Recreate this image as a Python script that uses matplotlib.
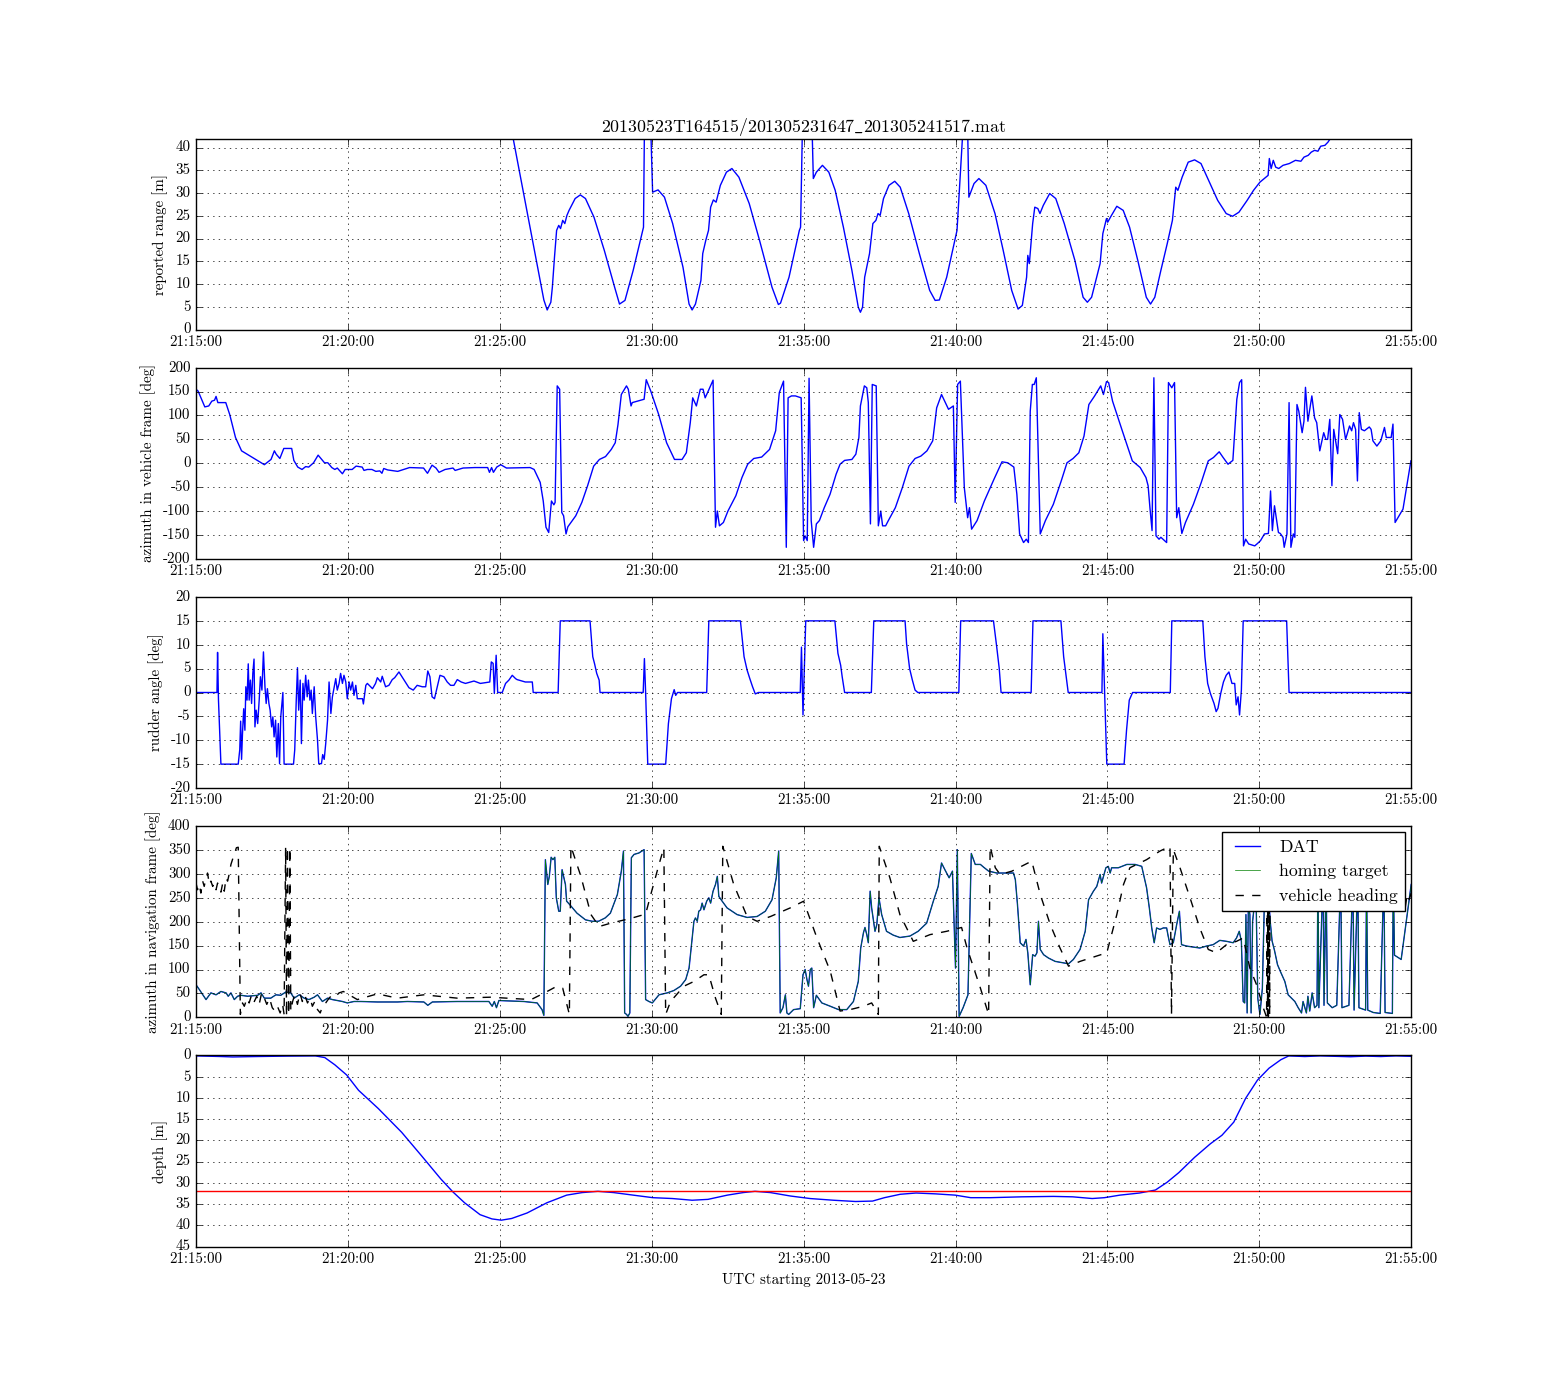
import datetime as dt

import matplotlib
matplotlib.use('Agg')
import matplotlib.dates as mdates
from matplotlib import pyplot as plt

plt.style.use('classic')
plt.rcParams['font.family'] = ['cmr10', 'DejaVu Serif']
plt.rcParams['axes.unicode_minus'] = False
plt.rcParams['mathtext.fontset'] = 'cm'

T0 = dt.datetime(2013, 5, 23, 21, 15)
TITLE = r'20130523T164515/201305231647$\_$201305241517.mat'

# ---- data, time in minutes after 21:15:00 ----
range_t = [10.2, 10.44, 11.45, 11.56, 11.68, 11.73, 11.8, 11.87, 11.94, 12.0, 12.07, 12.14, 12.21,
           12.28, 12.48, 12.65, 12.82, 13.1, 13.44, 13.78, 13.94, 14.12, 14.39, 14.73, 14.76,
           14.97, 15.03, 15.21, 15.42, 15.69, 16.03, 16.23, 16.33, 16.44, 16.62, 16.68, 16.78,
           16.87, 16.94, 17.03, 17.12, 17.26, 17.46, 17.64, 17.87, 18.21, 18.55, 18.96, 19.17,
           19.24, 19.52, 19.86, 19.9, 19.96, 20.28, 20.32, 20.42, 20.62, 20.83, 21.04, 21.31,
           21.59, 21.8, 21.87, 21.94, 22.01, 22.17, 22.28, 22.38, 22.45, 22.52, 22.63, 22.81,
           23.0, 23.18, 23.46, 23.81, 24.15, 24.33, 24.47, 24.71, 24.98, 25.05, 25.23, 25.26,
           25.4, 25.44, 25.61, 25.77, 26.0, 26.3, 26.57, 26.85, 27.06, 27.2, 27.34, 27.38,
           27.43, 27.54, 27.61, 27.71, 27.78, 27.89, 28.1, 28.3, 28.58, 28.93, 29.2, 29.34,
           29.48, 29.76, 29.85, 29.97, 30.01, 30.1, 30.31, 30.52, 30.73, 31.0, 31.28, 31.42,
           31.56, 31.76, 31.97, 32.14, 32.25, 32.32, 32.46, 32.66, 32.87, 33.08, 33.36, 33.63,
           33.91, 34.12, 34.33, 34.6, 34.81, 35.02, 35.22, 35.29, 35.33, 35.39, 35.46, 35.54,
           35.64, 35.78, 35.99, 36.19, 36.37, 36.47, 36.61, 36.71, 36.82, 36.93, 37.02, 37.16,
           37.26, 37.37, 37.5]
range_m = [48, 42, 6.5, 4.3, 6, 9.3, 15.9, 21.8, 22.9, 22.2, 24, 23.3, 25.1,
           26.2, 28.8, 29.6, 28.8, 24.7, 17.4, 9.3, 5.6, 6.4, 13, 22.5, 44,
           44, 30.2, 30.7, 29.1, 23.3, 13.7, 5.6, 4.3, 5.6, 10.8, 16.7, 19.6,
           21.8, 26.9, 28.5, 28, 31.7, 34.6, 35.4, 33.5, 27.7, 19.6, 9.3, 5.5,
           5.8, 11.5, 21.8, 22.5, 44, 44, 33.2, 34.6, 36.1, 34.6, 30.6, 22.5,
           13, 4.9, 3.8, 4.9, 11.5, 16.7, 23.3, 24, 25.5, 25.1, 28.8, 31.7,
           32.6, 31.3, 25.5, 16.7, 8.6, 6.4, 6.5, 11.5, 19.6, 21.8, 42.3, 44,
           44, 29.1, 32.1, 33.2, 31.7, 25.5, 17.4, 8.6, 4.5, 5.3, 11.5, 16.3,
           14.5, 23.3, 26.9, 26.6, 25.5, 27.3, 29.9, 28.8, 23.3, 15.2, 7.1, 6,
           7.1, 14.5, 21.1, 24.4, 23.6, 24.7, 27.1, 26.2, 22.5, 15.2, 7.1, 5.6,
           7.1, 13, 18.9, 24, 31.3, 30.6, 33.5, 36.8, 37.3, 36.5, 32.4, 28.4,
           25.5, 24.9, 25.8, 28.4, 30.6, 32.4, 33.5, 33.9, 37.6, 35.4, 37.2, 35.7,
           35.4, 36.1, 36.5, 37.2, 37, 37.9, 38.3, 39, 39.4, 39.2, 40.3, 40.5,
           41.2, 42.3, 43.5]

azv_t = [0, 0.07, 0.29, 0.42, 0.52, 0.61, 0.66, 0.72, 0.98, 1.11, 1.3, 1.5, 2.25, 2.47, 2.58,
         2.64, 2.76, 2.89, 3.15, 3.22, 3.35, 3.49, 3.61, 3.71, 3.87, 4.02, 4.23, 4.34, 4.47,
         4.57, 4.65, 4.82, 4.91, 5.01, 5.14, 5.27, 5.47, 5.53, 5.64, 5.79, 5.92, 6.05, 6.12,
         6.18, 6.31, 6.64, 7.03, 7.49, 7.62, 7.77, 7.9, 8.0, 8.2, 8.46, 8.53, 8.79, 9.18, 9.6,
         9.66, 9.73, 9.79, 9.9, 10.03, 10.22, 11.0, 11.13, 11.33, 11.43, 11.52, 11.61, 11.7,
         11.78, 11.82, 11.89, 11.97, 12.04, 12.1, 12.18, 12.24, 12.5, 12.7, 12.89, 13.09,
         13.28, 13.48, 13.67, 13.8, 13.89, 14.0, 14.17, 14.23, 14.32, 14.36, 14.75, 14.82,
         14.97, 15.23, 15.49, 15.75, 16.0, 16.14, 16.27, 16.35, 16.47, 16.6, 16.69, 16.76,
         16.86, 17.02, 17.1, 17.16, 17.23, 17.36, 17.51, 17.77, 17.97, 18.16, 18.36, 18.62,
         18.88, 19.08, 19.2, 19.34, 19.43, 19.49, 19.6, 19.73, 19.92, 20.0, 20.05, 20.12,
         20.18, 20.25, 20.33, 20.42, 20.52, 20.68, 20.87, 21.07, 21.2, 21.35, 21.59, 21.72,
         21.82, 21.87, 22.0, 22.08, 22.13, 22.2, 22.26, 22.39, 22.46, 22.54, 22.6, 22.7,
         22.79, 23.02, 23.25, 23.47, 23.67, 23.86, 24.06, 24.25, 24.38, 24.54, 24.77, 24.93,
         24.99, 25.07, 25.16, 25.29, 25.4, 25.46, 25.53, 25.71, 25.95, 26.27, 26.53, 26.72,
         26.92, 27.02, 27.11, 27.24, 27.33, 27.4, 27.46, 27.53, 27.59, 27.66, 27.79, 27.96,
         28.22, 28.48, 28.67, 28.87, 29.06, 29.23, 29.39, 29.58, 29.78, 29.87, 29.97, 30.04,
         30.17, 30.49, 30.82, 31.08, 31.27, 31.34, 31.4, 31.47, 31.53, 31.6, 31.7, 31.76,
         31.95, 32.01, 32.12, 32.21, 32.28, 32.35, 32.45, 32.57, 32.83, 33.09, 33.32, 33.49,
         33.68, 33.81, 33.97, 34.13, 34.26, 34.35, 34.42, 34.48, 34.55, 34.65, 34.85, 34.94,
         35.04, 35.17, 35.3, 35.37, 35.43, 35.5, 35.63, 35.69, 35.78, 35.82, 35.91, 35.98,
         36.04, 36.12, 36.17, 36.24, 36.3, 36.41, 36.47, 36.52, 36.6, 36.73, 36.82, 36.89,
         36.99, 37.12, 37.19, 37.25, 37.32, 37.39, 37.45, 37.58, 37.65, 37.74, 37.84, 37.97,
         38.04, 38.1, 38.17, 38.23, 38.29, 38.36, 38.46, 38.52, 38.62, 38.68, 38.74, 38.87,
         39.0, 39.12, 39.18, 39.34, 39.4, 39.47, 39.6, 39.73, 39.99]
azv_deg = [155, 151, 118, 120, 130, 132, 140, 127, 127, 102, 54, 26, -3, 8, 26,
           19, 10, 31, 31, 6, -8, -13, -7, -8, 1, 17, 1, 1, -9,
           -13, -10, -22, -13, -13, -13, -6, -8, -15, -13, -13, -17, -16, -21,
           -11, -14, -17, -9, -10, -21, -4, -10, -19, -13, -10, -15, -10, -9, -9,
           -19, -9, -19, -8, -3, -10, -9, -13, -40, -79, -134, -145, -79,
           -87, -82, 162, 155, -103, -110, -148, -133, -110, -82, -47, -6,
           8, 14, 29, 43, 81, 144, 162, 155, 120, 127, 134, 175,
           151, 102, 43, 8, 8, 22, 85, 137, 120, 155, 155, 137,
           151, 174, -134, -100, -131, -124, -100, -68, -30, -2, 10, 13,
           29, 68, 148, 172, -176, 137, 141, 141, 137, -162, -152, -162,
           178, -120, -176, -127, -120, -93, -65, -23, -2, 6, 8, 19,
           54, 120, 162, 158, 127, -127, 165, 162, -131, -100, -131, -131,
           -120, -93, -51, -6, 10, 15, 26, 47, 116, 144, 113, 120,
           -82, 165, 172, -51, -114, -93, -138, -120, -79, -33, 3, 1,
           -8, -65, -148, -166, -159, -166, 109, 165, 165, 179, -148, -120,
           -86, -37, 1, 10, 22, 57, 123, 141, 162, 144, 171, 169,
           130, 68, 5, -9, -30, -47, -93, -141, 179, -152, -159, -155,
           -166, 169, 158, 169, -114, -93, -147, -124, -86, -40, 5, 12,
           24, 12, -2, 6, 134, 169, 175, -173, -159, -169, -173, -168,
           -162, -148, -147, -58, -141, -89, -145, -147, -155, -176, -148, 127,
           -176, -148, -155, 123, 109, 64, 88, 159, 88, 141, 95, 85,
           26, 64, 50, 50, 92, -47, 71, 20, 102, 92, 50, 78,
           68, 85, 71, -37, 106, 71, 68, 71, 76, 71, 47, 36,
           47, 75, 54, 54, 82, -124, -110, -96, 5]

rud_t = [0, 0.69, 0.71, 0.74, 0.82, 1.39, 1.44, 1.47, 1.5, 1.53, 1.57, 1.61, 1.64, 1.68, 1.72,
         1.75, 1.79, 1.83, 1.87, 1.91, 1.94, 1.98, 2.03, 2.08, 2.12, 2.17, 2.22, 2.27, 2.31,
         2.35, 2.4, 2.44, 2.49, 2.53, 2.57, 2.62, 2.66, 2.71, 2.75, 2.79, 2.86, 2.9, 3.21,
         3.25, 3.3, 3.34, 3.38, 3.43, 3.47, 3.52, 3.56, 3.61, 3.66, 3.7, 3.75, 3.79, 3.83,
         3.89, 3.94, 4.0, 4.04, 4.13, 4.17, 4.22, 4.27, 4.33, 4.38, 4.44, 4.49, 4.55, 4.6,
         4.65, 4.71, 4.76, 4.82, 4.87, 4.93, 4.98, 5.04, 5.09, 5.15, 5.2, 5.26, 5.31, 5.48,
         5.51, 5.59, 5.64, 5.81, 5.91, 5.97, 6.08, 6.13, 6.19, 6.24, 6.35, 6.46, 6.54, 6.68,
         6.84, 7.01, 7.15, 7.28, 7.45, 7.56, 7.63, 7.7, 7.77, 7.85, 7.94, 8.03, 8.16, 8.27,
         8.38, 8.49, 8.6, 8.73, 8.87, 9.15, 9.36, 9.67, 9.72, 9.78, 9.82, 9.88, 9.93, 10.08,
         10.19, 10.3, 10.41, 10.52, 10.57, 10.84, 11.07, 11.1, 11.92, 11.99, 12.97, 13.06,
         13.12, 13.19, 13.27, 13.3, 14.72, 14.76, 14.8, 14.87, 15.46, 15.55, 15.65, 15.74,
         15.79, 15.85, 16.81, 16.88, 17.92, 18.04, 18.14, 18.23, 18.32, 18.41, 18.51, 19.89,
         19.93, 19.98, 20.07, 21.03, 21.13, 21.22, 21.27, 21.35, 22.23, 22.31, 23.34, 23.39,
         23.49, 23.58, 23.67, 23.76, 25.11, 25.17, 26.25, 26.35, 26.44, 26.5, 27.49, 27.55,
         28.47, 28.56, 28.65, 28.71, 29.82, 29.85, 29.91, 29.98, 30.55, 30.63, 30.72, 30.79,
         30.83, 32.07, 32.12, 33.14, 33.21, 33.3, 33.39, 33.51, 33.58, 33.64, 33.73, 33.82,
         33.91, 34.0, 34.1, 34.19, 34.24, 34.3, 34.35, 34.41, 34.47, 35.9, 35.98, 40.0]
rud_deg = [0, 0, 8.4, -1.6, -15, -15, -12, -6, -14, -8.6, -3.4, -7.9, 1.2, -1.6, 6,
           -1.6, 2.6, -2.3, 4, 7, -7.2, -3.7, -6.5, -1.6, 3.3, 0.5, 8.5, 1.2, -2.3,
           0.8, -2.3, -3.7, -7.2, -5.1, -9.3, -5.8, -13.5, -6.5, -14.9, -5.1, 0, -15, -15,
           -12, -1.6, 5.2, -3.7, 2.6, -10.7, 1.9, -1.6, 3.6, -0.9, 2.6, -1.6, 0.5, -4.4,
           1.2, -5.1, -10, -14.9, -14.9, -13, -14, -10.7, -5.8, 2.2, -4.4, -0.9, 1.2, 2.9,
           0.5, 1.9, 4, 1.9, 3.6, 2.2, -1.3, 2.2, 0.5, 2.2, -0.6, 1.5, -1.3, -1.3,
           -2.4, 1.5, 1.9, 0.8, 1.9, 3.1, 2.2, 3.4, 2.2, 1.2, 1.5, 2.7, 3.1, 4.3,
           2.7, 1, 0.5, 1.5, 1.2, 1.2, 4.5, 3.3, -0.9, -1.3, 1.2, 3.6, 3.3, 2.2,
           1.5, 1.5, 2.7, 2.2, 1.9, 2.4, 1.9, 2.2, 6.4, 6.1, -0.2, 7.8, 0, 0,
           1.9, 2.6, 3.6, 2.9, 2.7, 2.2, 2.2, 0, 0, 15, 15, 7.5,
           6, 4, 2.6, 0, 0, 7.1, 0, -15, -15, -6.5, -1.3, 0.6,
           -0.6, 0, 0, 15, 15, 7.5, 4.7, 2.9, 1.2, -0.3, 0, 0,
           9.5, -4.7, 15, 15, 8.2, 5.7, 3.3, 0, 0, 15, 15, 10.2,
           5, 2.6, 0.5, 0, 0, 15, 15, 9.9, 5, 0, 0, 15,
           15, 7.5, 2.9, 0, 0, 12.3, 0, -15, -15, -7.9, -1.6, -0.6,
           0, 0, 15, 15, 7.5, 1.9, -0.2, -2.3, -4, -3.3, -0.2, 2.2,
           3.6, 4.3, 1.9, 1.9, -2.6, -0.9, -4.7, 0.5, 15, 15, 0, 0]

dat_t = [0, 0.11, 0.33, 0.49, 0.66, 0.82, 0.99, 1.06, 1.15, 1.26, 1.37, 1.48, 1.7, 2.03, 2.14,
         2.25, 2.46, 2.63, 2.79, 2.96, 3.12, 3.23, 3.4, 3.56, 3.72, 3.89, 4.0, 4.16, 4.33,
         4.49, 4.65, 4.82, 4.98, 5.2, 5.42, 5.97, 6.63, 6.96, 7.5, 7.63, 7.78, 8.6, 9.15,
         9.64, 9.75, 9.82, 9.89, 9.97, 10.79, 11.23, 11.39, 11.45, 11.5, 11.58, 11.63, 11.69,
         11.75, 11.81, 11.86, 11.94, 11.99, 12.05, 12.16, 12.2, 12.3, 12.54, 12.82, 13.04,
         13.25, 13.47, 13.64, 13.87, 14.0, 14.07, 14.11, 14.17, 14.22, 14.28, 14.33, 14.42,
         14.58, 14.75, 14.8, 14.91, 15.02, 15.24, 15.51, 15.73, 15.95, 16.12, 16.23, 16.31,
         16.39, 16.44, 16.5, 16.55, 16.61, 16.66, 16.72, 16.81, 16.88, 16.94, 17.02, 17.1,
         17.16, 17.21, 17.32, 17.48, 17.81, 18.14, 18.47, 18.74, 18.96, 19.1, 19.18, 19.23,
         19.32, 19.4, 19.45, 19.51, 19.67, 19.89, 19.98, 20.05, 20.11, 20.16, 20.22, 20.27,
         20.33, 20.42, 20.6, 20.88, 21.15, 21.42, 21.64, 21.8, 21.88, 21.97, 22.02, 22.08,
         22.13, 22.19, 22.24, 22.35, 22.41, 22.48, 22.57, 22.73, 22.95, 23.17, 23.5, 23.77,
         24.05, 24.27, 24.43, 24.54, 24.65, 24.79, 24.9, 24.95, 25.0, 25.06, 25.12, 25.25,
         25.41, 25.52, 25.65, 25.82, 25.93, 26.09, 26.36, 26.69, 26.91, 26.97, 27.04, 27.13,
         27.24, 27.32, 27.38, 27.46, 27.54, 27.62, 27.68, 27.73, 27.79, 27.9, 28.06, 28.28,
         28.55, 28.72, 28.88, 29.1, 29.27, 29.38, 29.54, 29.65, 29.76, 29.81, 29.87, 29.95,
         30.03, 30.09, 30.14, 30.36, 30.64, 30.91, 31.13, 31.29, 31.38, 31.46, 31.54, 31.62,
         31.73, 31.84, 31.95, 32.0, 32.06, 32.17, 32.28, 32.37, 32.44, 32.61, 32.83, 33.04,
         33.26, 33.48, 33.7, 33.92, 34.14, 34.25, 34.34, 34.41, 34.47, 34.52, 34.56, 34.6,
         34.64, 34.69, 34.73, 34.78, 34.82, 34.88, 34.95, 35.02, 35.1, 35.17, 35.22, 35.3,
         35.36, 35.42, 35.5, 35.6, 35.7, 35.84, 35.95, 36.06, 36.17, 36.28, 36.39, 36.44,
         36.55, 36.6, 36.66, 36.74, 36.82, 36.9, 36.93, 36.96, 37.1, 37.13, 37.2, 37.24,
         37.4, 37.55, 37.68, 37.72, 37.95, 38.08, 38.12, 38.24, 38.28, 38.5, 38.53, 38.57,
         38.75, 38.98, 39.1, 39.14, 39.38, 39.41, 39.45, 39.67, 39.84, 40.0]
dat_deg = [68, 58, 37, 51, 47, 54, 51, 44, 51, 37, 44, 46, 44, 46, 51,
           40, 40, 47, 46, 53, 51, 40, 47, 40, 37, 42, 47, 33, 40,
           37, 35, 33, 30, 33, 33, 32, 32, 33, 32, 25, 32, 33, 33,
           33, 23, 33, 20, 35, 33, 30, 16, 4, 330, 278, 295, 335,
           330, 335, 250, 222, 222, 309, 278, 243, 236, 218, 204, 201,
           201, 208, 218, 257, 306, 348, 9, 6, 2, 9, 334, 341,
           344, 351, 37, 33, 30, 47, 51, 56, 65, 79, 103, 152,
           201, 208, 201, 222, 225, 239, 225, 243, 250, 239, 264, 278,
           295, 253, 243, 229, 215, 209, 211, 222, 246, 292, 348, 9,
           20, 47, 9, 6, 16, 18, 89, 100, 79, 65, 100, 103,
           20, 46, 30, 23, 16, 16, 33, 75, 145, 177, 188, 173,
           156, 264, 229, 180, 194, 250, 215, 180, 172, 167, 170, 180,
           197, 243, 274, 323, 309, 292, 306, 208, 103, 351, 2, 20,
           47, 343, 320, 320, 314, 306, 302, 302, 302, 288, 236, 156,
           149, 163, 135, 68, 131, 128, 135, 201, 142, 131, 124, 117,
           114, 112, 121, 142, 180, 246, 264, 274, 299, 281, 295, 313,
           316, 302, 313, 313, 320, 320, 316, 271, 229, 187, 156, 187,
           184, 187, 187, 170, 152, 156, 194, 222, 152, 149, 147, 145,
           149, 152, 161, 159, 156, 166, 180, 159, 33, 30, 215, 9,
           236, 215, 9, 201, 225, 300, 40, 6, 60, 250, 300, 260,
           200, 160, 140, 110, 95, 75, 47, 40, 33, 20, 9, 33,
           9, 44, 13, 51, 20, 25, 300, 20, 300, 25, 300, 30,
           20, 25, 300, 20, 25, 300, 15, 300, 20, 15, 300, 15,
           10, 8, 300, 10, 8, 300, 130, 121, 201, 278]
homing_deg = dat_deg

head_t = [0, 0.05, 0.11, 0.16, 0.22, 0.27, 0.33, 0.38, 0.44, 0.49, 0.55, 0.6, 0.66, 0.71, 0.77,
          0.82, 0.88, 0.93, 0.99, 1.04, 1.1, 1.15, 1.2, 1.26, 1.33, 1.39, 1.46, 1.53, 1.59,
          1.68, 1.75, 1.83, 1.92, 2.0, 2.08, 2.16, 2.25, 2.33, 2.42, 2.51, 2.6, 2.68, 2.77,
          2.85, 2.9, 2.95, 2.98, 3.01, 3.05, 3.09, 3.12, 3.18, 3.25, 3.34, 3.42, 3.5, 3.58,
          3.67, 3.76, 3.83, 3.91, 4.0, 4.09, 4.16, 4.27, 4.38, 4.49, 4.6, 4.71, 4.85, 5.31,
          5.97, 6.63, 7.5, 8.6, 9.69, 11.03, 11.47, 11.85, 12.07, 12.29, 12.34, 12.67, 13.0,
          13.27, 13.65, 14.31, 14.8, 14.97, 15.24, 15.4, 15.46, 15.62, 16.06, 16.39, 16.72,
          16.88, 17.1, 17.29, 17.34, 17.7, 18.14, 18.47, 18.91, 19.56, 20.0, 20.44, 20.88,
          21.2, 21.53, 21.97, 22.24, 22.46, 22.49, 22.84, 23.17, 23.61, 24.16, 24.71, 25.2,
          25.38, 25.6, 25.82, 26.09, 26.14, 26.31, 26.47, 26.86, 27.51, 27.79, 28.12, 28.44,
          28.72, 29.1, 29.98, 30.31, 30.53, 30.74, 31.29, 31.73, 32.06, 32.11, 32.17, 32.39,
          32.72, 33.04, 33.32, 33.59, 33.92, 34.25, 34.47, 34.69, 34.91, 35.13, 35.24, 35.26,
          35.27, 35.29, 35.3, 35.32, 35.34, 35.36, 35.5, 36.5, 37.5, 38.5, 39.3, 39.5, 39.55,
          39.6, 39.65, 39.7, 39.75, 39.8, 39.85, 39.9, 40.0]
head_deg = [281, 267, 278, 260, 285, 274, 292, 302, 278, 285, 274, 281, 267, 281, 274,
            262, 281, 264, 292, 285, 302, 320, 330, 341, 355, 356, 6, 30, 23,
            40, 30, 47, 33, 44, 27, 51, 40, 27, 40, 20, 13, 23, 9,
            27, 6, 355, 2, 356, 6, 355, 13, 33, 47, 27, 51, 33, 47,
            30, 40, 23, 33, 16, 9, 23, 30, 40, 47, 44, 51, 54, 37,
            49, 40, 47, 40, 42, 37, 51, 64, 61, 6, 358, 295, 215,
            190, 197, 207, 216, 257, 320, 355, 6, 33, 65, 75, 89,
            89, 40, 6, 358, 278, 211, 201, 211, 229, 243, 166, 96,
            13, 16, 23, 30, 6, 358, 292, 215, 159, 173, 180, 188,
            145, 103, 61, 6, 358, 313, 299, 306, 327, 257, 194, 145,
            107, 117, 135, 215, 278, 313, 330, 348, 358, 6, 351, 313,
            250, 187, 142, 135, 152, 159, 166, 103, 68, 20, 0, 359,
            3, 358, 2, 355, 5, 350, 330, 310, 300, 290, 280, 240, 255,
            230, 250, 225, 245, 228, 250, 240, 260]

depth_t = [0, 0.83, 1.21, 2.0, 3.0, 3.93, 4.24, 4.57, 4.96, 5.35, 6.0, 6.77, 7.42, 8.06, 8.45,
           8.84, 9.35, 9.74, 10.05, 10.39, 10.9, 11.55, 12.2, 12.71, 13.23, 13.75, 14.39,
           15.04, 15.68, 16.33, 16.85, 17.49, 18.01, 18.4, 18.91, 19.56, 20.21, 20.98, 21.71,
           22.27, 22.66, 23.18, 23.7, 24.34, 24.99, 25.5, 26.15, 27.18, 28.22, 28.86, 29.5,
           29.9, 30.41, 31.06, 31.58, 31.96, 32.35, 32.87, 33.39, 33.77, 34.16, 34.55, 34.94,
           35.32, 35.71, 35.97, 36.5, 37.0, 37.5, 38.0, 38.5, 39.0, 39.5, 40.0]
depth_m = [0.1, 0.25, 0.35, 0.25, 0.15, 0.1, 0.5, 2.2, 4.6, 8.2, 12.5, 18.1, 23.6, 29.1, 32.1,
           34.7, 37.5, 38.5, 38.8, 38.4, 37.1, 34.7, 32.9, 32.3, 32.0, 32.3, 32.9,
           33.5, 33.7, 34.1, 33.9, 32.9, 32.3, 32.0, 32.3, 33.1, 33.7, 34.1, 34.4,
           34.3, 33.5, 32.7, 32.4, 32.6, 32.9, 33.5, 33.5, 33.3, 33.2, 33.3, 33.7,
           33.5, 32.9, 32.4, 31.7, 29.9, 27.6, 24.0, 20.8, 18.8, 15.7, 10.1, 5.8,
           3.0, 1.0, 0.1, 0.25, 0.1, 0.2, 0.3, 0.15, 0.25, 0.1, 0.2]
depth_target = 32.0


def to_time(minutes):
    return [T0 + dt.timedelta(minutes=m) for m in minutes]


fig = plt.figure(figsize=(15.68, 13.85), dpi=100, facecolor='w')
axes = [fig.add_subplot(5, 1, i + 1) for i in range(5)]

ax = axes[0]
ax.plot(to_time(range_t), range_m, 'b-')
ax.set_ylim(0, 42)
ax.set_yticks(range(0, 41, 5))
ax.set_ylabel('reported range [m]')
ax.set_title(TITLE, fontsize=12.8)

ax = axes[1]
ax.plot(to_time(azv_t), azv_deg, 'b-')
ax.set_ylim(-200, 200)
ax.set_yticks(range(-200, 201, 50))
ax.set_ylabel('azimuth in vehicle frame [deg]')

ax = axes[2]
ax.plot(to_time(rud_t), rud_deg, 'b-')
ax.set_ylim(-20, 20)
ax.set_yticks(range(-20, 21, 5))
ax.set_ylabel('rudder angle [deg]')

ax = axes[3]
ax.plot(to_time(dat_t), dat_deg, 'b-', label='DAT')
ax.plot(to_time(dat_t), homing_deg, 'g-', lw=0.5, label='homing target')
ax.plot(to_time(head_t), head_deg, 'k--', label='vehicle heading')
ax.set_ylim(0, 400)
ax.set_yticks(range(0, 401, 50))
ax.set_ylabel('azimuth in navigation frame [deg]')
ax.legend(loc='upper right', fontsize=12.8, borderaxespad=0.35)

ax = axes[4]
ax.plot(to_time(depth_t), depth_m, 'b-')
ax.axhline(depth_target, color='r')
ax.set_ylim(45, 0)
ax.set_yticks(range(0, 46, 5))
ax.set_ylabel('depth [m]')
ax.set_xlabel('UTC starting 2013-05-23', fontsize=10.8)

for ax in axes:
    ax.set_xlim(T0, T0 + dt.timedelta(minutes=40))
    ax.xaxis.set_major_locator(mdates.MinuteLocator(byminute=range(0, 60, 5)))
    ax.xaxis.set_major_formatter(mdates.DateFormatter('%H:%M:%S'))
    ax.tick_params(labelsize=10.8)
    ax.yaxis.label.set_size(10.8)
    ax.grid(True)

fig.savefig('out.png', dpi=100)
